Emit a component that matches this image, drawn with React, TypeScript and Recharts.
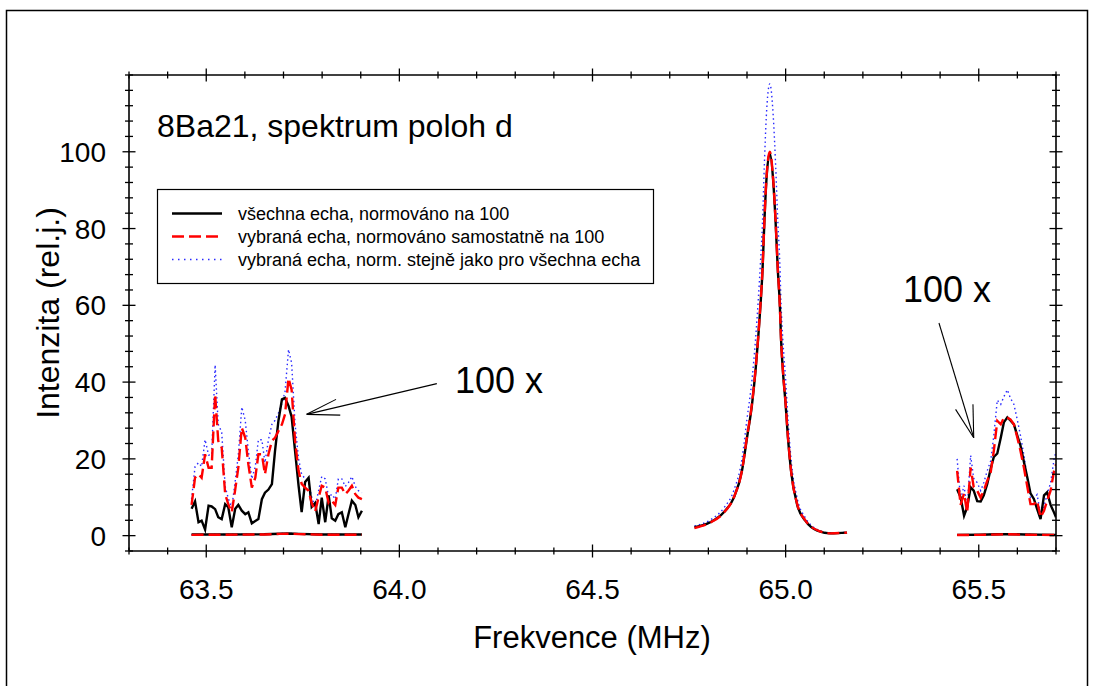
import React from 'react';
import { LineChart, Line, XAxis, YAxis, ReferenceLine } from 'recharts';

const FONT = '"Liberation Sans", Arial, Helvetica, sans-serif';

// axis ticks
const xTicks = [63.3, 63.4, 63.5, 63.6, 63.7, 63.8, 63.9, 64.0, 64.1, 64.2, 64.3, 64.4, 64.5, 64.6, 64.7, 64.8, 64.9, 65.0, 65.1, 65.2, 65.3, 65.4, 65.5, 65.6, 65.7];
const xMajor = [63.5, 64.0, 64.5, 65.0, 65.5];
const yTicks = [-4, 0, 4, 8, 12, 16, 20, 24, 28, 32, 36, 40, 44, 48, 52, 56, 60, 64, 68, 72, 76, 80, 84, 88, 92, 96, 100, 104, 108, 112, 116, 120];
const yMajor = [0, 20, 40, 60, 80, 100];

// left window (shown 100x)
const leftFreq = [63.462, 63.471, 63.480, 63.488, 63.497, 63.506, 63.514, 63.523, 63.531, 63.540, 63.549, 63.557, 63.566, 63.575, 63.583, 63.592, 63.601, 63.609, 63.618, 63.627, 63.635, 63.644, 63.652, 63.661, 63.670, 63.678, 63.687, 63.696, 63.704, 63.713, 63.721, 63.730, 63.739, 63.747, 63.756, 63.765, 63.773, 63.782, 63.791, 63.799, 63.808, 63.817, 63.825, 63.834, 63.842, 63.851, 63.860, 63.868, 63.877, 63.886, 63.894, 63.903];
const leftAll = [7.0, 8.9, 3.5, 3.9, 1.6, 7.8, 7.6, 6.9, 4.8, 4.3, 8.2, 7.4, 2.2, 7.0, 8.0, 6.5, 5.6, 6.1, 3.2, 3.8, 4.3, 9.5, 11.2, 12.0, 13.4, 22.0, 30.0, 35.5, 35.9, 33.8, 31.0, 22.0, 13.0, 6.1, 14.0, 15.1, 7.5, 8.5, 3.0, 9.9, 3.5, 10.5, 4.5, 3.9, 5.6, 6.1, 2.2, 5.5, 9.1, 8.0, 4.8, 6.5];
const leftSel = [8.0, 15.1, 16.0, 15.1, 21.2, 17.7, 17.7, 36.8, 24.7, 22.9, 10.8, 8.2, 6.1, 12.0, 17.7, 28.1, 25.5, 18.6, 12.5, 15.1, 21.2, 21.2, 16.0, 21.2, 24.7, 25.5, 27.3, 29.0, 31.6, 41.0, 38.0, 24.7, 16.9, 13.5, 12.5, 11.7, 8.5, 6.3, 10.0, 13.0, 12.5, 8.5, 9.1, 8.0, 12.5, 12.5, 10.8, 11.7, 13.0, 10.8, 9.9, 9.5];
const leftNorm = [9.5, 18.0, 19.0, 18.0, 25.0, 21.0, 21.0, 44.5, 29.0, 27.0, 12.8, 9.7, 7.2, 14.2, 21.0, 33.5, 30.0, 22.0, 14.8, 18.0, 25.0, 25.0, 19.0, 25.0, 29.0, 30.0, 32.0, 34.5, 37.5, 48.5, 45.0, 29.0, 20.0, 16.0, 14.8, 13.8, 10.0, 7.5, 11.8, 15.4, 14.8, 10.0, 10.8, 9.5, 14.8, 14.8, 12.8, 13.8, 15.4, 12.8, 11.7, 11.2];

// left window at true scale
const leftZeroFreq = [63.462, 63.55, 63.65, 63.69, 63.715, 63.74, 63.80, 63.903];
const leftZeroAll = [0.3, 0.3, 0.35, 0.5, 0.55, 0.45, 0.3, 0.3];
const leftZeroSel = [0.2, 0.25, 0.3, 0.45, 0.5, 0.4, 0.25, 0.25];
const leftZeroNorm = [0.25, 0.3, 0.35, 0.55, 0.6, 0.45, 0.3, 0.3];

// main line
const midFreq = [64.764, 64.805, 64.840, 64.866, 64.887, 64.900, 64.913, 64.922, 64.929, 64.935, 64.940, 64.945, 64.950, 64.959, 64.968, 64.974, 64.980, 64.985, 64.988, 64.993, 65.000, 65.006, 65.014, 65.030, 65.051, 65.082, 65.116, 65.159];
const midAll = [2.2, 3.5, 6.1, 9.9, 16.9, 25.5, 34.2, 42.9, 51.5, 60.2, 68.8, 81.8, 92.2, 99.6, 92.2, 81.8, 68.8, 60.2, 51.5, 42.9, 34.2, 25.5, 16.9, 8.0, 3.9, 1.3, 0.6, 0.8];
const midSel = [2.0, 3.4, 6.0, 10.0, 17.0, 25.8, 34.5, 43.2, 51.8, 60.5, 69.0, 82.0, 92.5, 100.0, 92.5, 82.0, 69.0, 60.0, 51.5, 43.0, 34.5, 25.8, 17.0, 8.2, 4.0, 1.4, 0.6, 0.8];
const midNorm = [2.5, 4.1, 7.2, 11.8, 20.0, 30.4, 40.7, 51.0, 61.1, 71.4, 81.4, 96.8, 109.2, 117.7, 109.2, 96.8, 81.4, 70.8, 60.8, 50.7, 40.7, 30.4, 20.0, 9.7, 4.7, 1.6, 0.7, 0.9];

// right window (shown 100x)
const rightFreq = [65.444, 65.453, 65.462, 65.470, 65.479, 65.487, 65.496, 65.505, 65.513, 65.522, 65.531, 65.539, 65.548, 65.557, 65.565, 65.574, 65.582, 65.591, 65.600, 65.608, 65.617, 65.626, 65.634, 65.643, 65.651, 65.660, 65.669, 65.677, 65.686, 65.695, 65.700];
const rightAll = [12.1, 10.0, 5.2, 7.4, 12.6, 11.7, 9.0, 8.9, 10.5, 13.5, 17.5, 20.5, 21.4, 25.5, 29.5, 30.8, 30.0, 29.0, 26.0, 23.5, 19.2, 15.0, 11.0, 9.5, 7.0, 4.3, 10.5, 11.3, 8.0, 6.0, 4.8];
const rightSel = [16.9, 8.0, 11.0, 6.0, 17.7, 12.6, 11.7, 9.9, 11.7, 14.3, 16.5, 22.1, 29.9, 29.0, 30.7, 30.7, 30.3, 29.0, 25.5, 22.1, 17.7, 12.6, 8.2, 8.2, 9.1, 4.8, 6.5, 9.1, 11.7, 16.9, 18.6];
const rightNorm = [20.0, 9.5, 13.0, 7.1, 20.9, 14.9, 13.8, 11.7, 13.8, 16.9, 19.5, 26.1, 35.3, 34.2, 36.2, 38.0, 35.8, 34.2, 30.1, 26.1, 20.9, 14.9, 9.7, 9.7, 10.7, 5.7, 7.7, 10.7, 13.8, 19.9, 21.9];

// right window at true scale
const rightZeroFreq = [65.444, 65.50, 65.55, 65.575, 65.62, 65.70];
const rightZeroAll = [0.2, 0.25, 0.35, 0.4, 0.3, 0.2];
const rightZeroSel = [0.15, 0.2, 0.3, 0.35, 0.25, 0.15];
const rightZeroNorm = [0.2, 0.25, 0.4, 0.45, 0.3, 0.2];

// arrows pointing to the 100x parts: [tail, tip, head1, head2] in data units
const arrowLeft = [[64.097, 39.6], [63.760, 31.6], [63.836, 35.5], [63.847, 31.4]];
const arrowRight = [[65.397, 55.4], [65.487, 25.5], [65.440, 32.9], [65.485, 34.2]];

const legendLabels = [
    'všechna echa, normováno na 100',
    'vybraná echa, normováno samostatně na 100',
    'vybraná echa, norm. stejně jako pro všechna echa',
];

const pts = (xs: number[], ys: number[]) => xs.map((x, i) => ({ x, y: ys[i] }));

const series = [
    { key: 'norm', color: '#2a2aff', width: 1.4, dash: '1.5 3', segs: [pts(leftFreq, leftNorm), pts(leftZeroFreq, leftZeroNorm), pts(midFreq, midNorm), pts(rightFreq, rightNorm), pts(rightZeroFreq, rightZeroNorm)] },
    { key: 'all', color: '#000000', width: 2.4, dash: undefined, segs: [pts(leftFreq, leftAll), pts(leftZeroFreq, leftZeroAll), pts(midFreq, midAll), pts(rightFreq, rightAll), pts(rightZeroFreq, rightZeroAll)] },
    { key: 'sel', color: '#ff0000', width: 2.4, dash: '12 5', segs: [pts(leftFreq, leftSel), pts(leftZeroFreq, leftZeroSel), pts(midFreq, midSel), pts(rightFreq, rightSel), pts(rightZeroFreq, rightZeroSel)] },
];

const isMajor = (list: number[], v: number) => list.some(m => Math.abs(m - v) < 1e-6);

const BottomTick = (props: any) => {
    const { x, y, payload } = props;
    const major = isMajor(xMajor, payload.value);
    const len = major ? 6.5 : 3.5;
    return (
        <g>
            <line x1={x} x2={x} y1={y - len} y2={y + len} stroke="#000" strokeWidth={1.3} />
            {major && (
                <text x={x} y={y + 48} textAnchor="middle" fontSize={28} fontFamily={FONT} fill="#000">
                    {payload.value.toFixed(1)}
                </text>
            )}
        </g>
    );
};

const TopTick = (props: any) => {
    const { x, y, payload } = props;
    const len = isMajor(xMajor, payload.value) ? 6.5 : 3.5;
    return <line x1={x} x2={x} y1={y - len} y2={y + len} stroke="#000" strokeWidth={1.3} />;
};

const LeftTick = (props: any) => {
    const { x, y, payload } = props;
    const major = isMajor(yMajor, payload.value);
    const len = major ? 6.5 : 4;
    return (
        <g>
            <line x1={x - len} x2={x + len} y1={y} y2={y} stroke="#000" strokeWidth={1.3} />
            {major && (
                <text x={x - 23} y={y} dy="0.36em" textAnchor="end" fontSize={28} fontFamily={FONT} fill="#000">
                    {String(payload.value)}
                </text>
            )}
        </g>
    );
};

const RightTick = (props: any) => {
    const { x, y, payload } = props;
    const len = isMajor(yMajor, payload.value) ? 6.5 : 4;
    return <line x1={x - len} x2={x + len} y1={y} y2={y} stroke="#000" strokeWidth={1.3} />;
};

const arrowSegments = (a: number[][]) => [
    [a[0], a[1]],
    [a[1], a[2]],
    [a[1], a[3]],
];

const App = () => {
    const axisLine = { stroke: '#000', strokeWidth: 1.6 };
    return (
        <div style={{ position: 'absolute', left: 0, top: 0, width: 1095, height: 686, background: '#fff' }}>
            <LineChart width={1095} height={686} margin={{ top: 74, right: 38, bottom: 134, left: 128 }}>
                <XAxis dataKey="x" type="number" domain={[63.3, 65.7]} allowDataOverflow ticks={xTicks} interval={0}
                    height={1} tickSize={0} tickMargin={0} tickLine={false} axisLine={axisLine} tick={<BottomTick />} />
                <XAxis xAxisId="top" orientation="top" dataKey="x" type="number" domain={[63.3, 65.7]} allowDataOverflow ticks={xTicks} interval={0}
                    height={1} tickSize={0} tickMargin={0} tickLine={false} axisLine={axisLine} tick={<TopTick />} />
                <YAxis type="number" domain={[-4, 120]} allowDataOverflow ticks={yTicks} interval={0}
                    width={1} tickSize={0} tickMargin={0} tickLine={false} axisLine={axisLine} tick={<LeftTick />} />
                <YAxis yAxisId="right" orientation="right" type="number" domain={[-4, 120]} allowDataOverflow ticks={yTicks} interval={0}
                    width={1} tickSize={0} tickMargin={0} tickLine={false} axisLine={axisLine} tick={<RightTick />} />
                {series.flatMap(s =>
                    s.segs.map((d, i) => (
                        <Line key={`${s.key}-${i}`} data={d} dataKey="y" type={i === 2 ? 'monotone' : 'linear'}
                            stroke={s.color} strokeWidth={s.width} strokeDasharray={s.dash}
                            dot={false} activeDot={false} isAnimationActive={false} />
                    ))
                )}
                {[arrowLeft, arrowRight].flatMap((a, j) =>
                    arrowSegments(a).map((seg, i) => (
                        <ReferenceLine key={`arrow-${j}-${i}`} ifOverflow="visible" stroke="#000" strokeWidth={1.1}
                            segment={[{ x: seg[0][0], y: seg[0][1] }, { x: seg[1][0], y: seg[1][1] }]} />
                    ))
                )}
            </LineChart>
            <svg width={1095} height={686} style={{ position: 'absolute', left: 0, top: 0, pointerEvents: 'none' }}
                fontFamily={FONT} fill="#000">
                <rect x={6.5} y={10.5} width={1081} height={700} fill="none" stroke="#000" strokeWidth={1.5} />
                <text x={157} y={137} fontSize={32}>8Ba21, spektrum poloh d</text>
                <text x={455} y={393} fontSize={36}>100 x</text>
                <text x={903} y={302} fontSize={36}>100 x</text>
                <text x={592} y={648} fontSize={31} textAnchor="middle">Frekvence (MHz)</text>
                <text x={59} y={313} fontSize={32} textAnchor="middle" transform="rotate(-90, 59, 313)">Intenzita (rel.j.)</text>
                <rect x={157.5} y={189.5} width={496} height={94} fill="#fff" stroke="#000" strokeWidth={1.2} />
                <line x1={172} x2={222} y1={213.5} y2={213.5} stroke="#000" strokeWidth={2.4} />
                <line x1={172} x2={222} y1={236.5} y2={236.5} stroke="#ff0000" strokeWidth={2.4} strokeDasharray="12 5" />
                <line x1={172} x2={222} y1={259.5} y2={259.5} stroke="#2a2aff" strokeWidth={1.4} strokeDasharray="1.5 4.5" />
                {legendLabels.map((t, i) => (
                    <text key={t} x={238} y={220 + i * 23} fontSize={18}>{t}</text>
                ))}
            </svg>
        </div>
    );
};

export default App;
